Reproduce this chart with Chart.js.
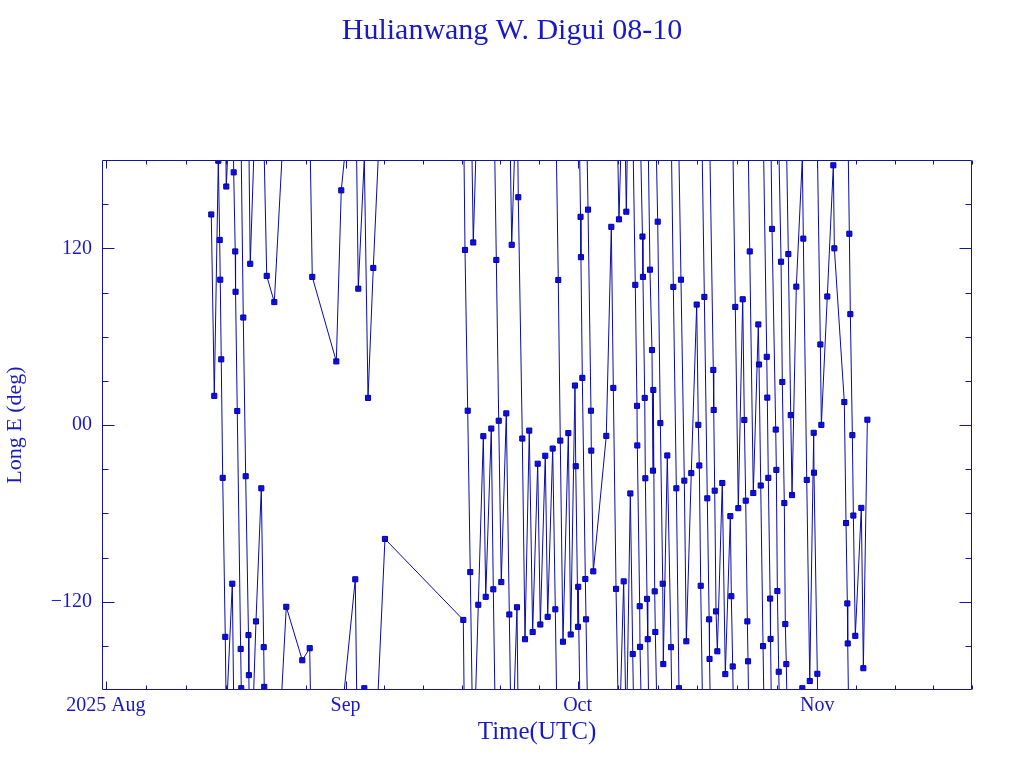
<!DOCTYPE html>
<html>
<head>
<meta charset="utf-8">
<script src="https://cdn.jsdelivr.net/npm/chart.js@4.4.1/dist/chart.umd.min.js"></script>
<style>
html,body{margin:0;padding:0;background:#fff;}
#wrap{width:1024px;height:768px;}
</style>
</head>
<body>
<div id="wrap"><canvas id="c" width="1024" height="768"></canvas></div>
<script>
// ---- data (time in days since 2025-08-01 00:00 UTC) ----
const monthTicks  = [0, 31, 61, 92];
const monthLabels = ['2025 Aug', 'Sep', 'Oct', 'Nov'];
const monthLengths = [31, 30, 31, 30];
const lonTicks = [-120, 0, 120];
const lonTickLabels = ['\u2212120', '00', '120'];

const tDays = [
 13.63,14.02,14.54,14.72,14.79,14.92,15.11,15.44,15.57,16.35,16.53,16.73,16.77,16.99,17.43,17.51,17.77,18.08,18.44,18.49,
 18.67,19.41,20.10,20.41,20.48,20.80,21.78,23.33,25.40,26.36,26.69,29.80,30.44,32.25,32.64,33.42,33.90,34.58,36.09,46.22,
 46.44,46.79,47.12,47.51,48.16,48.81,49.12,49.84,50.10,50.49,50.80,51.13,51.78,52.17,52.48,53.16,53.33,53.85,54.20,54.75,
 55.19,55.84,56.18,56.82,57.13,57.78,58.12,58.50,58.76,59.11,59.80,60.11,60.66,60.76,61.05,61.08,61.38,61.43,61.61,62.00,
 62.09,62.35,62.73,62.77,63.03,64.71,65.36,65.62,65.97,66.35,66.96,67.30,67.82,68.13,68.46,68.68,68.72,69.03,69.07,69.39,
 69.45,69.68,69.76,69.98,70.07,70.36,70.62,70.75,70.79,70.97,71.05,71.36,71.70,72.01,72.08,72.60,73.08,73.38,73.77,74.11,
 74.37,74.80,75.06,75.70,76.40,76.61,76.74,76.92,77.39,77.77,78.01,78.06,78.55,78.60,78.73,78.90,79.07,79.71,80.10,80.75,
 80.88,81.06,81.39,81.78,82.35,82.56,82.74,82.95,83.04,83.26,83.72,84.37,84.46,84.68,84.98,85.46,85.53,85.66,85.90,85.95,
 86.14,86.62,86.70,86.83,87.01,87.31,87.47,87.73,87.86,87.99,88.25,88.56,88.73,89.28,90.06,90.19,90.63,91.02,91.53,91.57,
 92.00,92.39,92.52,93.29,94.07,94.20,95.49,95.71,95.88,95.93,96.14,96.27,96.53,96.66,96.91,97.69,97.95,98.47
];
const longE = [
 143.0,19.8,179.5,125.7,98.7,44.6,-35.9,-143.9,162.0,-107.8,171.6,117.9,90.5,9.5,-152.1,-178.8,73.0,-34.8,-142.7,-169.9,
 109.5,-133.4,-43.0,-150.9,-177.9,101.3,83.5,-123.5,-159.8,-151.6,100.6,43.2,159.4,-104.8,92.6,-178.8,18.4,106.7,-77.4,-132.4,
 118.9,9.7,-99.9,124.0,-122.1,-7.6,-116.7,-2.4,-111.6,112.1,2.9,-106.7,7.9,-128.7,122.4,-123.8,154.7,-9.2,-145.5,-3.8,
 -140.6,-26.3,-135.5,-20.9,-130.3,-16.0,-125.2,98.5,-10.6,-147.2,-5.5,-142.3,26.8,-28.0,-137.1,-109.9,141.4,114.0,32.0,-104.6,
 -132.0,146.3,9.7,-17.4,-99.4,-7.4,134.6,25.2,-111.3,139.7,-106.2,144.9,-46.5,-155.6,95.2,13.0,-13.9,-123.1,-150.7,128.0,
 100.6,18.4,-36.2,-118.1,-145.5,105.5,50.9,-31.0,23.8,-113.0,-140.6,138.1,1.3,-107.8,-162.4,-20.7,-150.9,93.8,-43.0,-178.8,
 98.7,-37.8,-146.9,-32.7,81.8,0.1,-27.5,-109.2,87.0,-49.8,-132.0,-158.9,37.4,10.2,-44.6,-126.6,-153.7,-39.4,-169.2,-61.9,
 -116.3,-164.0,80.2,-56.5,85.4,3.4,-51.4,-133.4,-160.5,117.9,-46.2,68.3,41.1,-41.1,-150.2,46.3,18.6,-35.9,-117.9,-145.3,
 133.2,-3.1,-30.5,-112.8,-167.6,110.9,29.2,-53.0,-135.2,-162.4,116.1,6.7,-47.6,94.0,-178.8,126.6,-37.3,-173.9,-5.3,-32.4,
 -169.0,54.7,0.1,87.3,176.4,120.0,15.6,-66.6,-121.2,-148.4,129.9,75.3,-6.9,-61.5,-143.2,-56.3,-165.2,3.6
];

// ---- styles ----
const TEXT = '#1818c8';
const AXIS = '#14149c';
const LINE = '#0a0aa4';
const FONT = "'Liberation Serif', 'Times New Roman', serif";

// points
const pts = tDays.map((t, i) => ({x: t, y: longE[i]}));

// line through consecutive points, wrapping across +/-180 (shortest way)
const linePts = [];
for (let i = 0; i < tDays.length; i++) {
  linePts.push({x: tDays[i], y: longE[i]});
  if (i + 1 < tDays.length) {
    let d = longE[i + 1] - longE[i];
    if (d > 180) d -= 360; else if (d < -180) d += 360;
    const yEnd = longE[i] + d;
    if (yEnd > 180 || yEnd < -180) {
      linePts.push({x: tDays[i + 1], y: yEnd});
      linePts.push({x: (tDays[i] + tDays[i + 1]) / 2, y: null});
      linePts.push({x: tDays[i], y: longE[i + 1] - d});
    }
  }
}

// frame with inward ticks on all four sides
const framePlugin = {
  id: 'frame',
  afterDatasetsDraw(chart) {
    const {ctx, chartArea: a, scales: {x, y}} = chart;
    const L = Math.round(a.left) + 0.5, R = Math.round(a.right) - 0.5;
    const T = Math.round(a.top) + 0.5, B = Math.round(a.bottom) - 0.5;
    ctx.save();
    ctx.strokeStyle = AXIS;
    ctx.lineWidth = 1;
    ctx.beginPath();
    ctx.rect(L, T, R - L, B - T);
    for (let v = -150; v <= 150; v += 30) {
      const py = Math.round(y.getPixelForValue(v)) + 0.5;
      const len = lonTicks.includes(v) ? 12 : 6;
      ctx.moveTo(L, py); ctx.lineTo(L + len, py);
      ctx.moveTo(R, py); ctx.lineTo(R - len, py);
    }
    const xt = [];
    monthTicks.forEach((m, i) => {
      xt.push([m, 8]);
      for (let k = 1; k < 6; k++) xt.push([m + k * monthLengths[i] / 6, 4]);
    });
    xt.forEach(([v, len]) => {
      if (v < x.min || v > x.max) return;
      const px = Math.round(x.getPixelForValue(v)) + 0.5;
      ctx.moveTo(px, B); ctx.lineTo(px, B - len);
      ctx.moveTo(px, T); ctx.lineTo(px, T + len);
    });
    ctx.stroke();
    ctx.restore();
  }
};

new Chart(document.getElementById('c'), {
  type: 'scatter',
  data: {
    datasets: [
      {
        data: linePts,
        showLine: true,
        spanGaps: false,
        borderColor: LINE,
        borderWidth: 1,
        pointRadius: 0,
        pointHoverRadius: 0,
        tension: 0
      },
      {
        data: pts,
        showLine: false,
        pointStyle: 'rect',
        pointRadius: 3.6,
        pointBorderWidth: 1,
        pointBorderColor: '#0000a8',
        pointBackgroundColor: '#1010f0'
      }
    ]
  },
  options: {
    responsive: false,
    animation: false,
    devicePixelRatio: 1,
    layout: {padding: 0},
    plugins: {
      legend: {display: false},
      tooltip: {enabled: false},
      title: {
        display: true,
        text: 'Hulianwang W. Digui 08-10',
        color: TEXT,
        font: {family: FONT, size: 30, weight: 'normal'},
        padding: {top: 13, bottom: 111}
      }
    },
    scales: {
      x: {
        type: 'linear',
        min: -0.5,
        max: 112,
        grid: {display: false, drawTicks: false},
        border: {display: false},
        afterBuildTicks: s => { s.ticks = monthTicks.map(v => ({value: v})); },
        afterFit: s => { s.height = 78; },
        ticks: {
          color: TEXT,
          font: {family: FONT, size: 20},
          padding: 4,
          maxRotation: 0,
          autoSkip: false,
          callback: v => monthLabels[monthTicks.indexOf(v)]
        },
        title: {
          display: true,
          text: 'Time(UTC)',
          color: TEXT,
          font: {family: FONT, size: 25},
          padding: {top: 0, bottom: 21}
        }
      },
      y: {
        min: -180,
        max: 180,
        grid: {display: false, drawTicks: false},
        border: {display: false},
        afterBuildTicks: s => { s.ticks = lonTicks.map(v => ({value: v})); },
        afterFit: s => { s.width = 102; },
        ticks: {
          color: TEXT,
          font: {family: FONT, size: 20},
          padding: 10,
          callback: v => lonTickLabels[lonTicks.indexOf(v)]
        },
        title: {
          display: true,
          text: 'Long E (deg)',
          color: TEXT,
          font: {family: FONT, size: 22},
          padding: {top: 2, bottom: 0}
        }
      },
      yRight: {
        position: 'right',
        min: -180,
        max: 180,
        grid: {display: false, drawTicks: false},
        border: {display: false},
        ticks: {display: false},
        afterFit: s => { s.width = 52; }
      }
    }
  },
  plugins: [framePlugin]
});
</script>
</body>
</html>
